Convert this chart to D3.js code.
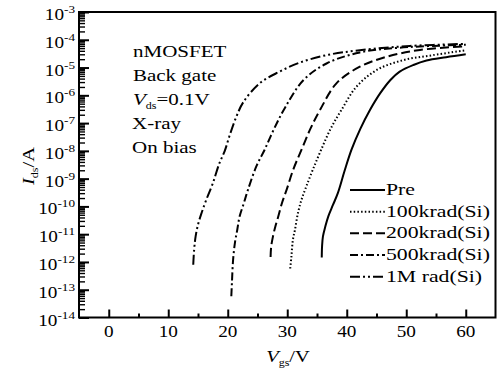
<!DOCTYPE html>
<html>
<head>
<meta charset="utf-8">
<script src="https://cdn.jsdelivr.net/npm/d3@7"></script>
<style>
  body { margin: 0; background: #fff; }
  svg { display: block; }
  text { font-family: "Liberation Serif", "Times New Roman", serif; fill: #000; }
</style>
</head>
<body>
<div id="chart"></div>
<script>
// Vgs (V) and Ids (A)
const preV = [35.8, 35.85, 36.0, 36.4, 36.9, 37.7, 38.5, 39.6, 40.8, 42.3, 43.9, 45.6, 47.3, 48.9, 51.2, 53.4, 56.7, 60];
const preI = [1.45e-12, 3.6e-12, 8.3e-12, 1.9e-11, 4.4e-11, 1.15e-10, 3.0e-10, 1.8e-9, 1.1e-8, 6.3e-8, 2.95e-7, 1.17e-6, 3.5e-6, 7.1e-6, 1.23e-5, 1.78e-5, 2.35e-5, 3.0e-5];

const k100V = [30.5, 30.7, 30.95, 31.3, 31.8, 32.4, 33.2, 34.3, 35.7, 37.3, 39.1, 41.6, 45, 49.5, 54.5, 60];
const k100I = [5.8e-13, 1.6e-12, 6.3e-12, 1.45e-11, 5.8e-11, 1.75e-10, 5.2e-10, 2.1e-9, 1.1e-8, 6.3e-8, 2.95e-7, 2.0e-6, 8.1e-6, 1.85e-5, 2.8e-5, 4.2e-5];

const k200V = [27.2, 27.3, 27.6, 28.0, 28.5, 29.1, 29.9, 31.0, 32.4, 33.9, 35.5, 38.3, 42.2, 46.7, 52.3, 60];
const k200I = [1.5e-12, 3.6e-12, 8.3e-12, 1.9e-11, 4.4e-11, 1.3e-10, 4e-10, 2.1e-9, 1.1e-8, 6.3e-8, 2.95e-7, 2.75e-6, 1.07e-5, 2.45e-5, 4.3e-5, 5.8e-5];

const k500V = [20.6, 20.7, 20.9, 21.2, 21.6, 22.0, 22.7, 23.4, 24.8, 26.2, 27.8, 29.6, 32.7, 36.6, 42.2, 48.9, 60];
const k500I = [5.8e-14, 1.75e-13, 1.2e-12, 4.8e-12, 1.45e-11, 4.4e-11, 1.3e-10, 4e-10, 2.75e-9, 1.1e-8, 6.3e-8, 3.5e-7, 3.5e-6, 1.4e-5, 3.5e-5, 5.2e-5, 6.6e-5];

const m1V = [14.2, 14.35, 14.6, 15.0, 15.6, 16.4, 17.5, 18.6, 19.5, 20.3, 21.4, 22.6, 25.4, 28.7, 32.0, 36.6, 42.2, 50.6, 60];
const m1I = [7.9e-13, 2.75e-12, 8.3e-12, 2.2e-11, 5.8e-11, 1.75e-10, 6.9e-10, 3.6e-9, 1.0e-8, 3.5e-8, 1.6e-7, 5.6e-7, 2.75e-6, 7.1e-6, 1.48e-5, 2.8e-5, 4.2e-5, 6e-5, 7.1e-5];

const seriesNames = ["Pre", "100krad(Si)", "200krad(Si)", "500krad(Si)", "1M rad(Si)"];
const xTicks = [0, 10, 20, 30, 40, 50, 60];
const yExponents = [-3, -4, -5, -6, -7, -8, -9, -10, -11, -12, -13, -14];
const annotation = ["nMOSFET", "Back gate", "Vds=0.1V", "X-ray", "On bias"];

const width = 497, height = 369;
const m = { left: 79, right: 495.5, top: 12, bottom: 317.5 };

const svg = d3.select("#chart").append("svg")
  .attr("width", width)
  .attr("height", height);

const x = d3.scaleLinear().domain([-5, 65]).range([m.left, m.right]);
const y = d3.scaleLog().domain([1e-14, 1e-3]).range([m.bottom, m.top]);

// horizontally stretched serif text, like the original
function stretched(g, tx, ty, size, sx, anchor) {
  return g.append("text")
    .attr("transform", `translate(${tx},${ty}) scale(${sx},1)`)
    .attr("font-size", size)
    .attr("text-anchor", anchor || "start");
}

// y ticks (inward)
const majorY = yExponents.map(e => Math.pow(10, e));
const minorY = [];
for (let e = -14; e < -3; e++) {
  for (let k = 2; k <= 9; k++) minorY.push(k * Math.pow(10, e));
}
svg.append("g")
  .attr("transform", `translate(${m.left},0)`)
  .call(d3.axisLeft(y).tickValues(majorY).tickSize(-10).tickFormat(""))
  .call(g => g.select(".domain").remove())
  .selectAll("line").attr("stroke-width", 2);
svg.append("g")
  .attr("transform", `translate(${m.left},0)`)
  .call(d3.axisLeft(y).tickValues(minorY).tickSize(-6).tickFormat(""))
  .call(g => g.select(".domain").remove())
  .selectAll("line").attr("stroke-width", 1.4);

// x ticks (inward)
const minorX = [5, 15, 25, 35, 45, 55];
svg.append("g")
  .attr("transform", `translate(0,${m.bottom})`)
  .call(d3.axisBottom(x).tickValues(xTicks).tickSize(-8).tickFormat(""))
  .call(g => g.select(".domain").remove())
  .selectAll("line").attr("stroke-width", 2);
svg.append("g")
  .attr("transform", `translate(0,${m.bottom})`)
  .call(d3.axisBottom(x).tickValues(minorX).tickSize(-4).tickFormat(""))
  .call(g => g.select(".domain").remove())
  .selectAll("line").attr("stroke-width", 2);

// frame
svg.append("rect")
  .attr("x", m.left).attr("y", m.top)
  .attr("width", m.right - m.left).attr("height", m.bottom - m.top)
  .attr("fill", "none").attr("stroke", "#000").attr("stroke-width", 2);

// y tick labels 10^n
yExponents.forEach(e => {
  const t = stretched(svg, 75, y(Math.pow(10, e)) + 8, 16, 1.2, "end");
  t.append("tspan").text("10");
  t.append("tspan").attr("font-size", 11).attr("dy", -7).text(e);
});

// x tick labels
xTicks.forEach(v => {
  stretched(svg, x(v), m.bottom + 19.5, 16, 1.2, "middle").text(v);
});

// axis titles
const xt = stretched(svg, 288, 362, 17, 1.2, "middle");
xt.append("tspan").attr("font-style", "italic").text("V");
xt.append("tspan").attr("font-size", 10).attr("dy", 4).text("gs");
xt.append("tspan").attr("dy", -4).text("/V");

const yt = svg.append("text")
  .attr("transform", `translate(34,166) rotate(-90) scale(1.2,1)`)
  .attr("font-size", 17)
  .attr("text-anchor", "middle");
yt.append("tspan").attr("font-style", "italic").text("I");
yt.append("tspan").attr("font-size", 10).attr("dy", 4).text("ds");
yt.append("tspan").attr("dy", -4).text("/A");

// annotation block
const annoY = [56.7, 81, 105, 128.5, 153];
annotation.forEach((s, i) => {
  const t = stretched(svg, i < 3 ? 133 : 132, annoY[i], 17.5, 1.2, "start");
  if (s.startsWith("Vds")) {
    t.append("tspan").attr("font-style", "italic").text("V");
    t.append("tspan").attr("font-size", 10).attr("dy", 4).text("ds");
    t.append("tspan").attr("dy", -4).text("=0.1V");
  } else {
    t.text(s);
  }
});

// curves
const dashes = [null, "1.5,2.2", "9,4", "8,3,2,3", "10,3,2,3,2,3"];
const series = [
  [preV, preI], [k100V, k100I], [k200V, k200I], [k500V, k500I], [m1V, m1I]
];
const line = d3.line()
  .x(d => x(d[0]))
  .y(d => y(d[1]))
  .curve(d3.curveCatmullRom.alpha(0.5));

series.forEach((s, i) => {
  const pts = s[0].map((v, j) => [v, s[1][j]]);
  svg.append("path")
    .attr("d", line(pts))
    .attr("fill", "none")
    .attr("stroke", "#000")
    .attr("stroke-width", 2)
    .attr("stroke-dasharray", dashes[i]);
});

// legend
const legendY = [195, 216.7, 238.3, 260, 281.7];
seriesNames.forEach((name, i) => {
  svg.append("line")
    .attr("x1", 350).attr("x2", 385)
    .attr("y1", legendY[i] - 5).attr("y2", legendY[i] - 5)
    .attr("stroke", "#000").attr("stroke-width", 2)
    .attr("stroke-dasharray", dashes[i]);
  stretched(svg, 386, legendY[i], 17, 1.28, "start").text(name);
});
</script>
</body>
</html>
